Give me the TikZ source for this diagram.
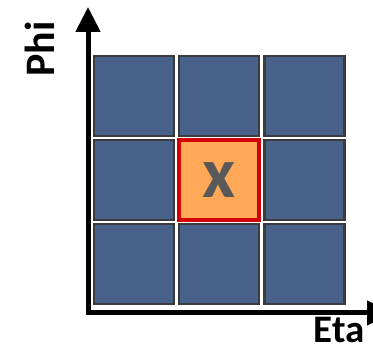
\documentclass[tikz,border=0pt]{standalone}
\usepackage{fontspec}
\setmainfont{Carlito}
\usetikzlibrary{arrows.meta}

\definecolor{cellblue}{HTML}{47618B}
\definecolor{cellgray}{HTML}{3B3B3B}
\definecolor{seedorange}{HTML}{FFA857}
\definecolor{seedred}{HTML}{D40000}
\definecolor{seedtext}{HTML}{595959}

\begin{document}
\begin{tikzpicture}[
    x=1pt, y=1pt,
    axisarrow/.style={
        line width=5pt, line join=miter,
        {Triangle[width=24pt,length=25pt]}-{Triangle[width=24pt,length=25pt]}
    },
    cell/.style={
        draw=cellgray, fill=cellblue, line width=2.5pt,
        rectangle, minimum size=80pt, inner sep=0pt
    },
    seed/.style={
        draw=seedred, fill=seedorange, line width=4pt,
        rectangle, minimum size=80pt, inner sep=0pt,
        text=seedtext, font=\fontsize{72}{72}\selectfont\bfseries
    },
    axislabel/.style={font=\fontsize{42}{42}\selectfont\bfseries, inner sep=0pt}
]

% page frame
\useasboundingbox[fill=white] (0,0) rectangle (373,351);

% -------------------------
% Axes
% -------------------------
\coordinate (Origin) at (88,38);
\coordinate (PhiTip) at (88,344);
\coordinate (EtaTip) at (392,38);

\draw[axisarrow] (PhiTip) -- (Origin) -- (EtaTip);

\node[axislabel, rotate=90] (PhiLabel) at (40,302) {Phi};
\node[axislabel, anchor=base, font=\fontsize{39}{39}\selectfont\bfseries] (EtaLabel) at (339,8) {Eta};

% -------------------------
% Calorimeter cells (3 x 3)
% -------------------------

% top row
\node[cell] (TopLeft)  at (134,255) {};
\node[cell] (TopMid)   at (219,255) {};
\node[cell] (TopRight) at (304.5,255) {};

% middle row
\node[cell] (MidLeft)  at (134,171) {};
\node[seed] (Seed)     at (219,171) {x};
\node[cell] (MidRight) at (304.5,171) {};

% bottom row
\node[cell] (BotLeft)  at (134,87) {};
\node[cell] (BotMid)   at (219,87) {};
\node[cell] (BotRight) at (304.5,87) {};

\end{tikzpicture}
\end{document}
